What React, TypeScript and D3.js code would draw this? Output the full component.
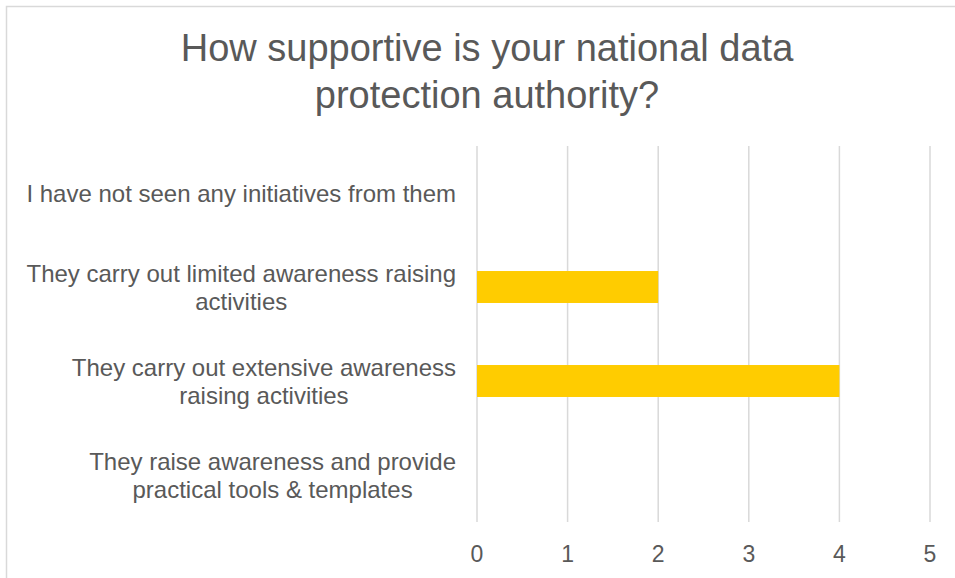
import React, { useEffect, useRef } from 'react';
import * as d3 from 'd3';

const categories: string[][] = [
  ['I have not seen any initiatives from them'],
  ['They carry out limited awareness raising', 'activities'],
  ['They carry out extensive awareness', 'raising activities'],
  ['They raise awareness and provide', 'practical tools & templates'],
];
const values: number[] = [0, 2, 4, 0];
const xTicks: number[] = [0, 1, 2, 3, 4, 5];
const titleLines: string[] = ['How supportive is your national data', 'protection authority?'];

const App: React.FC = () => {
  const svgRef = useRef<SVGSVGElement>(null);

  useEffect(() => {
    if (!svgRef.current) return;
    const width = 955;
    const height = 578;
    const margin = { top: 146, right: 25, bottom: 56, left: 477 };
    const font = "'Liberation Sans', Arial, sans-serif";
    const textColor = '#595959';

    const svg = d3.select(svgRef.current);
    svg.selectAll('*').remove();

    svg.append('rect')
      .attr('x', 6.5).attr('y', 6.5)
      .attr('width', width + 20).attr('height', height + 20)
      .attr('fill', '#fff')
      .attr('stroke', '#d9d9d9')
      .attr('stroke-width', 1.5);

    svg.append('g')
      .selectAll('text')
      .data(titleLines)
      .join('text')
      .attr('x', 487)
      .attr('y', (_, i) => 61 + i * 47)
      .attr('text-anchor', 'middle')
      .attr('font-family', font)
      .attr('font-size', 38)
      .attr('fill', textColor)
      .text(d => d);

    const x = d3.scaleLinear()
      .domain([0, 5])
      .range([margin.left, width - margin.right]);

    const y = d3.scaleBand<number>()
      .domain(categories.map((_, i) => i))
      .range([margin.top, height - margin.bottom])
      .paddingInner(0.66)
      .paddingOuter(0.33);

    svg.append('g')
      .selectAll('line')
      .data(xTicks)
      .join('line')
      .attr('x1', d => x(d)).attr('x2', d => x(d))
      .attr('y1', margin.top).attr('y2', height - margin.bottom)
      .attr('stroke', '#d9d9d9')
      .attr('stroke-width', 1.5);

    svg.append('g')
      .selectAll('rect')
      .data(values)
      .join('rect')
      .attr('x', x(0))
      .attr('y', (_, i) => y(i)!)
      .attr('width', d => x(d) - x(0))
      .attr('height', y.bandwidth())
      .attr('fill', '#ffcc00');

    svg.append('g')
      .selectAll('text')
      .data(xTicks)
      .join('text')
      .attr('x', d => x(d))
      .attr('y', 562)
      .attr('text-anchor', 'middle')
      .attr('font-family', font)
      .attr('font-size', 23)
      .attr('fill', textColor)
      .text(d => d);

    // category labels: lines centred on each other, block right-aligned
    const labelRight = 456;
    const lineH = 28;
    categories.forEach((lines, i) => {
      const cy = y(i)! + y.bandwidth() / 2;
      const g = svg.append('g');
      const texts = g.selectAll('text')
        .data(lines)
        .join('text')
        .attr('y', (_, j) => cy + (j - (lines.length - 1) / 2) * lineH + 9)
        .attr('text-anchor', 'middle')
        .attr('font-family', font)
        .attr('font-size', 24)
        .attr('fill', textColor)
        .text(d => d);
      let maxW = 0;
      texts.each(function () {
        maxW = Math.max(maxW, (this as SVGTextElement).getComputedTextLength());
      });
      texts.attr('x', labelRight - maxW / 2);
    });
  }, []);

  return (
    <svg
      ref={svgRef}
      width={955}
      height={578}
      style={{ position: 'absolute', left: 0, top: 0, background: '#fff' }}
    />
  );
};

export default App;
